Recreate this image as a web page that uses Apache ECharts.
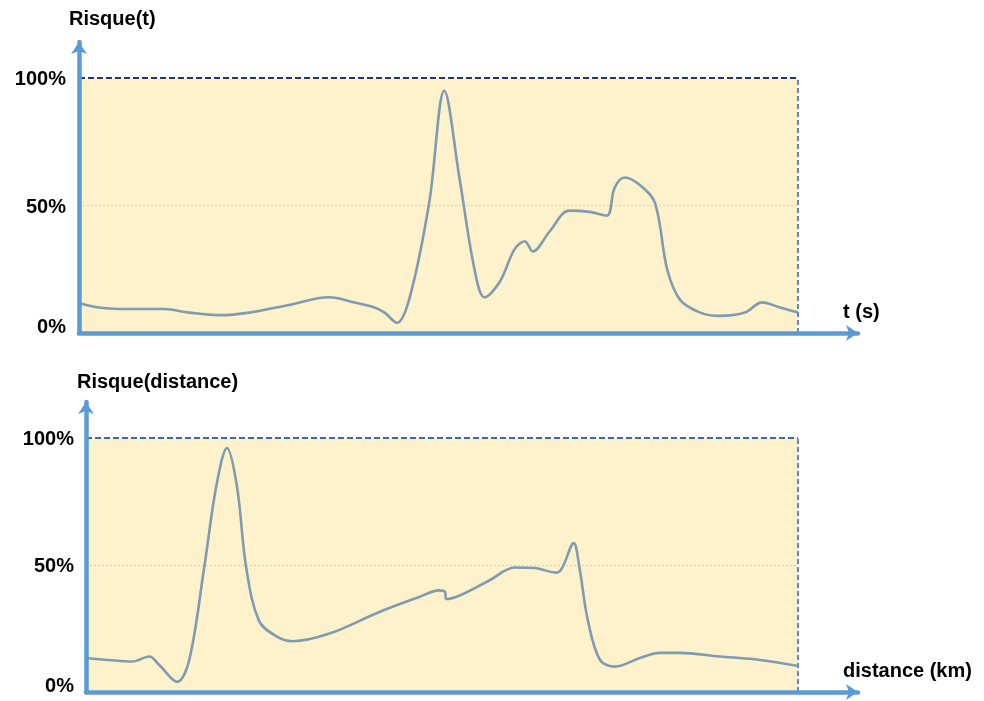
<!DOCTYPE html>
<html>
<head>
<meta charset="utf-8">
<script src="https://cdn.jsdelivr.net/npm/echarts@6/dist/echarts.min.js"></script>
<style>html,body{margin:0;padding:0;background:#fff}#c{width:984px;height:701px}</style>
</head>
<body>
<div id="c"></div>
<script>
// ---- data ----
const topTitle = 'Risque(t)';
const topXName = 't (s)';
const bottomTitle = 'Risque(distance)';
const bottomXName = 'distance (km)';
const yTicks = [0, 50, 100];

const topT = [0,2.8,7,11.8,15.3,19.5,23.7,29.2,34.8,38.3,41.1,42.5,44.2,46,48.7,50.8,52.9,55,56.4,58.5,60.6,62,63.1,65.5,68.2,71,73.4,74.5,75.9,78,80.1,81.8,83.6,86.4,89.1,92.6,95,97.5,100];
const topRisk = [11.8,10,9.4,9.4,8,7,8,11,14,12,10,8,4,14,51,95,61,25,14,20,33,36,32,40,48,47.5,46,57,61,58,51,25,13,8,6.7,8,12,10,8];

const bottomD = [0,3.2,6.5,8.9,10.3,12.8,14.5,16.6,18.3,19.8,21.2,22.5,24.3,26.7,29,34.2,41.2,46.8,49.6,50.4,50.6,52.5,56.7,60.2,63,66.1,66.9,68.5,69.3,70.5,72.2,74.3,77.8,80.6,83.4,89,94.7,100];
const bottomRisk = [13.4,12.6,12,14,10.6,4,12.6,49,81,96,81,49,28,22,20,23,31.5,37.4,40,39.5,36.6,38,44,49,48.8,47,49,58.6,49,28,12.6,10,13.4,15.4,15.4,14,12.6,10.2];

// ---- chart ----
const FONT = "'Liberation Sans', Arial, sans-serif";
const AXIS_COLOR = '#5b9bd5';
const FILL = '#fef2cd';
const LINE = '#7f9bb0';

function pair(xs, ys){ return xs.map((x,i)=>[x, ys[i]]); }

function yAxisOf(gi, max, margin){
  return {
    type:'value', gridIndex:gi, min:0, max:max, interval:50, z:10,
    axisLine:{show:true, lineStyle:{color:AXIS_COLOR, width:4.5}, symbol:['none','arrow'], symbolSize:[12,12]},
    axisTick:{show:false}, splitLine:{show:false},
    axisLabel:{margin:margin, fontFamily:FONT, fontWeight:'bold', fontSize:20, color:'#000',
      formatter:v => v === 0 ? '{z|0%}' : (yTicks.includes(v) ? '{n|' + v + '%}' : ''),
      rich:{
        z:{fontFamily:FONT, fontWeight:'bold', fontSize:20, color:'#000', padding:[0,0,12,0]},
        n:{fontFamily:FONT, fontWeight:'bold', fontSize:20, color:'#000', padding:[3,0,0,0]}
      }}
  };
}
function xAxisOf(gi, max){
  return {
    type:'value', gridIndex:gi, min:0, max:max, z:10,
    axisLine:{show:true, lineStyle:{color:AXIS_COLOR, width:4.5}, symbol:['none','arrow'], symbolSize:[12,12], onZero:false},
    axisTick:{show:false}, splitLine:{show:false}, axisLabel:{show:false}
  };
}
function seriesOf(gi, data, topColor, rightColor){
  return {
    type:'line', xAxisIndex:gi, yAxisIndex:gi, data:data, smooth:0.35,
    showSymbol:false, symbol:'none', z:5,
    lineStyle:{color:LINE, width:2.6},
    markArea:{silent:true, itemStyle:{color:FILL}, data:[[{coord:[0,0]},{coord:[100,100]}]]},
    markLine:{silent:true, symbol:'none', label:{show:false},
      data:[
        [{coord:[0,100], lineStyle:{color:topColor, type:[6,3], width:2}}, {coord:[100,100]}],
        [{coord:[100,0], lineStyle:{color:rightColor, type:[5,3], width:1.5}}, {coord:[100,100]}],
        [{coord:[0,50], lineStyle:{color:'#c8d3dc', type:[2,2], width:1}}, {coord:[100,50]}]
      ]}
  };
}

const chart = echarts.init(document.getElementById('c'), null, {renderer:'canvas'});
chart.setOption({
  animation:false,
  backgroundColor:'#fff',
  title:[
    {text:topTitle, left:69, top:9, padding:0, textStyle:{fontFamily:FONT, fontWeight:'bold', fontSize:20, color:'#000'}},
    {text:topXName, left:843, top:302, padding:0, textStyle:{fontFamily:FONT, fontWeight:'bold', fontSize:20, color:'#000'}},
    {text:bottomTitle, left:77, top:372, padding:0, textStyle:{fontFamily:FONT, fontWeight:'bold', fontSize:20, color:'#000'}},
    {text:bottomXName, left:843, top:661, padding:0, textStyle:{fontFamily:FONT, fontWeight:'bold', fontSize:20, color:'#000'}}
  ],
  grid:[
    {left:79, top:42, right:126, bottom:368},
    {left:86, top:402, right:126, bottom:9}
  ],
  xAxis:[xAxisOf(0, 108.34), xAxisOf(1, 108.43)],
  yAxis:[yAxisOf(0, 114.12, 13), yAxisOf(1, 114.17, 12)],
  series:[
    seriesOf(0, pair(topT, topRisk), '#1e3585', '#2f62b2'),
    seriesOf(1, pair(bottomD, bottomRisk), '#2e6cbf', '#2f66b4')
  ]
});
</script>
</body>
</html>
